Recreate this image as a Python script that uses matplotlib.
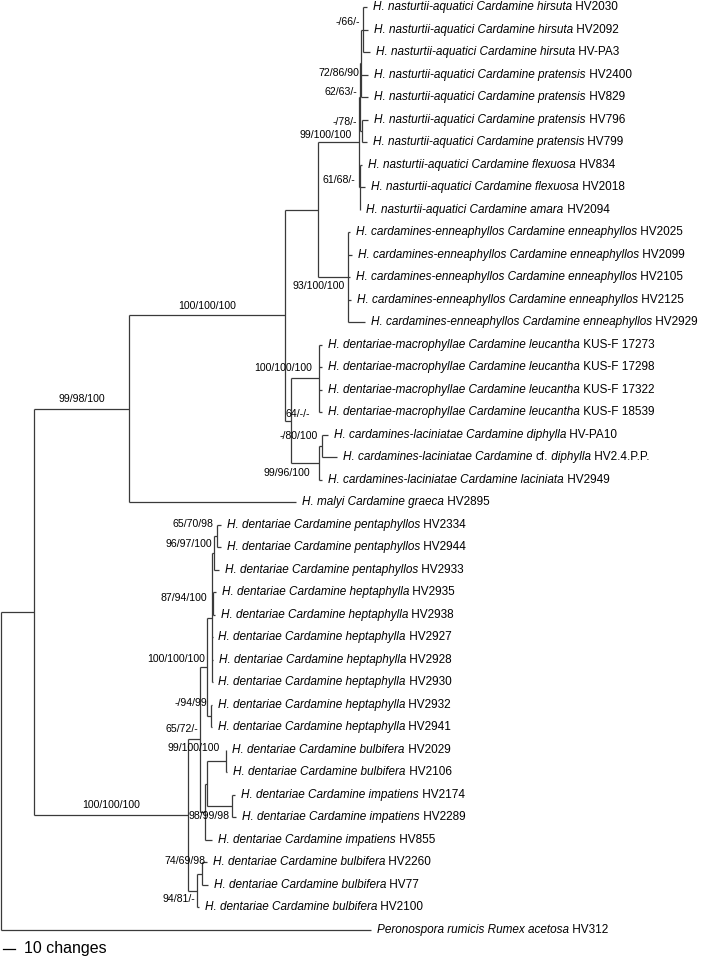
import matplotlib.pyplot as plt

# tips, top to bottom
taxa = [
    "H. nasturtii-aquatici Cardamine hirsuta", "H. nasturtii-aquatici Cardamine hirsuta",
    "H. nasturtii-aquatici Cardamine hirsuta", "H. nasturtii-aquatici Cardamine pratensis",
    "H. nasturtii-aquatici Cardamine pratensis", "H. nasturtii-aquatici Cardamine pratensis",
    "H. nasturtii-aquatici Cardamine pratensis", "H. nasturtii-aquatici Cardamine flexuosa",
    "H. nasturtii-aquatici Cardamine flexuosa", "H. nasturtii-aquatici Cardamine amara",
    "H. cardamines-enneaphyllos Cardamine enneaphyllos", "H. cardamines-enneaphyllos Cardamine enneaphyllos",
    "H. cardamines-enneaphyllos Cardamine enneaphyllos", "H. cardamines-enneaphyllos Cardamine enneaphyllos",
    "H. cardamines-enneaphyllos Cardamine enneaphyllos",
    "H. dentariae-macrophyllae Cardamine leucantha", "H. dentariae-macrophyllae Cardamine leucantha",
    "H. dentariae-macrophyllae Cardamine leucantha", "H. dentariae-macrophyllae Cardamine leucantha",
    "H. cardamines-laciniatae Cardamine diphylla", "H. cardamines-laciniatae Cardamine |cf.| diphylla",
    "H. cardamines-laciniatae Cardamine laciniata", "H. malyi Cardamine graeca",
    "H. dentariae Cardamine pentaphyllos", "H. dentariae Cardamine pentaphyllos",
    "H. dentariae Cardamine pentaphyllos", "H. dentariae Cardamine heptaphylla",
    "H. dentariae Cardamine heptaphylla", "H. dentariae Cardamine heptaphylla",
    "H. dentariae Cardamine heptaphylla", "H. dentariae Cardamine heptaphylla",
    "H. dentariae Cardamine heptaphylla", "H. dentariae Cardamine heptaphylla",
    "H. dentariae Cardamine bulbifera", "H. dentariae Cardamine bulbifera",
    "H. dentariae Cardamine impatiens", "H. dentariae Cardamine impatiens",
    "H. dentariae Cardamine impatiens", "H. dentariae Cardamine bulbifera",
    "H. dentariae Cardamine bulbifera", "H. dentariae Cardamine bulbifera",
    "Peronospora rumicis Rumex acetosa",
]
codes = [
    "HV2030", "HV2092", "HV-PA3", "HV2400", "HV829", "HV796", "HV799", "HV834", "HV2018", "HV2094",
    "HV2025", "HV2099", "HV2105", "HV2125", "HV2929",
    "KUS-F 17273", "KUS-F 17298", "KUS-F 17322", "KUS-F 18539",
    "HV-PA10", "HV2.4.P.P.", "HV2949", "HV2895",
    "HV2334", "HV2944", "HV2933", "HV2935", "HV2938", "HV2927", "HV2928", "HV2930", "HV2932", "HV2941",
    "HV2029", "HV2106", "HV2174", "HV2289", "HV855", "HV2260", "HV77", "HV2100", "HV312",
]
# clade each tip hangs from, and its branch length (changes)
tip_parent = [
    "hir", "hir", "hir", "hp", "hp", "pra2", "pra2", "flx", "flx", "flx",
    "enn", "enn", "enn", "enn", "enn",
    "leu", "leu", "leu", "leu",
    "dip", "dip", "lac", "B",
    "pen2", "pen2", "pen", "hep2", "hep2", "hepA", "hepA", "hepA", "hepB", "hepB",
    "bul", "bul", "imp2", "imp2", "imp", "bul3", "bul3", "bul2", "root",
]
tip_len = [
    3.2, 4.0, 5.6, 5.6, 5.6, 4.8, 4.0, 1.6, 4.0, 0.4,
    1.6, 3.2, 1.6, 2.4, 13.6,
    2.4, 2.4, 2.4, 2.4,
    4.8, 12.0, 2.4, 133.6,
    3.2, 3.2, 4.0, 2.4, 1.6, 0.4, 0.8, 0.4, 0.8, 0.8,
    0.4, 1.2, 2.4, 3.2, 5.6, 4.0, 4.8, 1.6, 296.0,
]
# internal clades: parent, branch length (changes), support MP/ML/BI
clades = {
    "ing":  ("root", 26.4, ""),
    "B":    ("ing", 76.0, "99/98/100"),
    "C":    ("B", 124.8, "100/100/100"),
    "NE":   ("C", 26.4, ""),
    "nas":  ("NE", 32.8, "99/100/100"),
    "pra":  ("nas", 0.8, "62/63/-"),
    "hp":   ("pra", 0.8, "72/86/90"),
    "hir":  ("hp", 1.6, "-/66/-"),
    "pra2": ("pra", 1.6, "-/78/-"),
    "flx":  ("nas", 0.8, "61/68/-"),
    "enn":  ("NE", 24.0, "93/100/100"),
    "DL":   ("C", 4.8, "64/-/-"),
    "leu":  ("DL", 22.4, "100/100/100"),
    "lac":  ("DL", 22.4, "99/96/100"),
    "dip":  ("lac", 2.4, "-/80/100"),
    "D":    ("ing", 123.2, "100/100/100"),
    "E":    ("D", 9.6, "65/72/-"),
    "F":    ("E", 5.6, "100/100/100"),
    "hepA": ("F", 4.0, ""),
    "pen":  ("hepA", 1.6, "96/97/100"),
    "pen2": ("pen", 2.4, "65/70/98"),
    "hep2": ("hepA", 0.8, "87/94/100"),
    "hepB": ("F", 3.2, "-/94/99"),
    "G":    ("E", 4.0, ""),
    "J":    ("G", 1.6, ""),
    "bul":  ("J", 15.2, "99/100/100"),
    "imp2": ("J", 20.0, "98/99/98"),
    "imp":  ("G", 0.0, ""),
    "bul2": ("D", 7.2, "94/81/-"),
    "bul3": ("bul2", 4.0, "74/69/98"),
}

# ---- layout (pixels) ----
W, H = 708, 960
PX = 1.25            # pixels per change
X0 = 1               # root x in px
ROW0, ROW = 7, 22.51 # first tip y and spacing in px
GAP = 6              # gap between branch tip and label

# label placement per clade: ('mid', dy) centred over the branch,
# or (dx, dy, ha) relative to the node
lab_pos = {
    "B": ("mid", -10), "C": ("mid", -9), "D": ("mid", -10),
    "nas": (-7, -7, "right"), "hp": (-2, 10, "right"), "hir": (-3, -7.5, "right"),
    "pra": (-3, -5, "right"), "pra2": (-5, -9, "right"), "flx": (-5, -7.5, "right"),
    "enn": (-3, 9, "right"), "DL": (-6, -7, "left"), "leu": (-7, -10, "right"),
    "dip": (-4, -10, "right"), "lac": (-9, 10, "right"),
    "pen2": (-4, -12, "right"), "pen": (-2, -9, "right"), "hep2": (-6, -6, "right"),
    "F": (-2, -8, "right"), "hepB": (-4, -13, "right"), "E": (-2, -10, "right"),
    "bul": (-6, -13, "right"), "imp2": (-2, 10, "right"),
    "bul3": (3, -13, "right"), "bul2": (-2, 8, "right"),
}

plt.rcParams["font.family"] = ["Liberation Sans", "DejaVu Sans"]
fig = plt.figure(figsize=(W / 100, H / 100), dpi=100)
ax = fig.add_axes([0, 0, 1, 1])
ax.set_xlim(0, W)
ax.set_ylim(H, 0)
ax.axis("off")

# depth of each node
depth = {"root": 0.0}
def get_depth(n):
    if n not in depth:
        p, bl, _ = clades[n]
        depth[n] = get_depth(p) + bl
    return depth[n]
for n in clades:
    get_depth(n)

# children lists in top-to-bottom order
kids = {}
for i, p in enumerate(tip_parent):
    kids.setdefault(p, []).append(("t", i))
for n, (p, _, _) in clades.items():
    kids.setdefault(p, []).append(("c", n))

ypos = {}
def node_y(k):
    kind, v = k
    if kind == "t":
        return ROW0 + v * ROW
    if v not in ypos:
        ys = [node_y(c) for c in kids[v]]
        ypos[v] = (min(ys) + max(ys)) / 2
    return ypos[v]

def px(d):
    return X0 + d * PX

lc = "#3a3a3a"
lw = 0.9
for n in ["root"] + list(clades):
    ys = [node_y(c) for c in kids[n]]
    ax.plot([px(depth[n])] * 2, [min(ys), max(ys)], color=lc, lw=lw, solid_capstyle="butt")
    for c in kids[n]:
        kind, v = c
        yc = node_y(c)
        if kind == "t":
            d1 = depth[n] + tip_len[v]
        else:
            d1 = depth[v]
        ax.plot([px(depth[n]), px(d1)], [yc, yc], color=lc, lw=lw, solid_capstyle="butt")

# tip labels: italic names, upright vouchers
fs = 8.5
for i in range(len(taxa)):
    y = node_y(("t", i))
    x = px(depth[tip_parent[i]] + tip_len[i]) + GAP
    parts = taxa[i].split("|")
    segs = [(s, "italic" if j % 2 == 0 else "normal") for j, s in enumerate(parts)]
    segs.append((" " + codes[i], "normal"))
    prev = None
    for s, st in segs:
        if s == "":
            continue
        if prev is None:
            prev = ax.text(x, y, s, fontsize=fs, style=st, ha="left", va="center")
        else:
            prev = ax.annotate(s, xy=(1, 0), xycoords=prev, fontsize=fs, style=st,
                               ha="left", va="bottom")

# support values
sfs = 7.6
for n, (p, bl, sup) in clades.items():
    if not sup:
        continue
    y = node_y(("c", n))
    pos = lab_pos[n]
    if pos[0] == "mid":
        xm = (px(depth[p]) + px(depth[n])) / 2
        ax.text(xm, y + pos[1], sup, fontsize=sfs, ha="center", va="center")
    else:
        ax.text(px(depth[n]) + pos[0], y + pos[1], sup, fontsize=sfs, ha=pos[2], va="center")

# scale bar
ax.plot([px(1.5), px(11.5)], [949, 949], color="black", lw=0.9)
ax.text(24, 949, "10 changes", fontsize=11.5, ha="left", va="center")

fig.savefig("out.png", dpi=100)
